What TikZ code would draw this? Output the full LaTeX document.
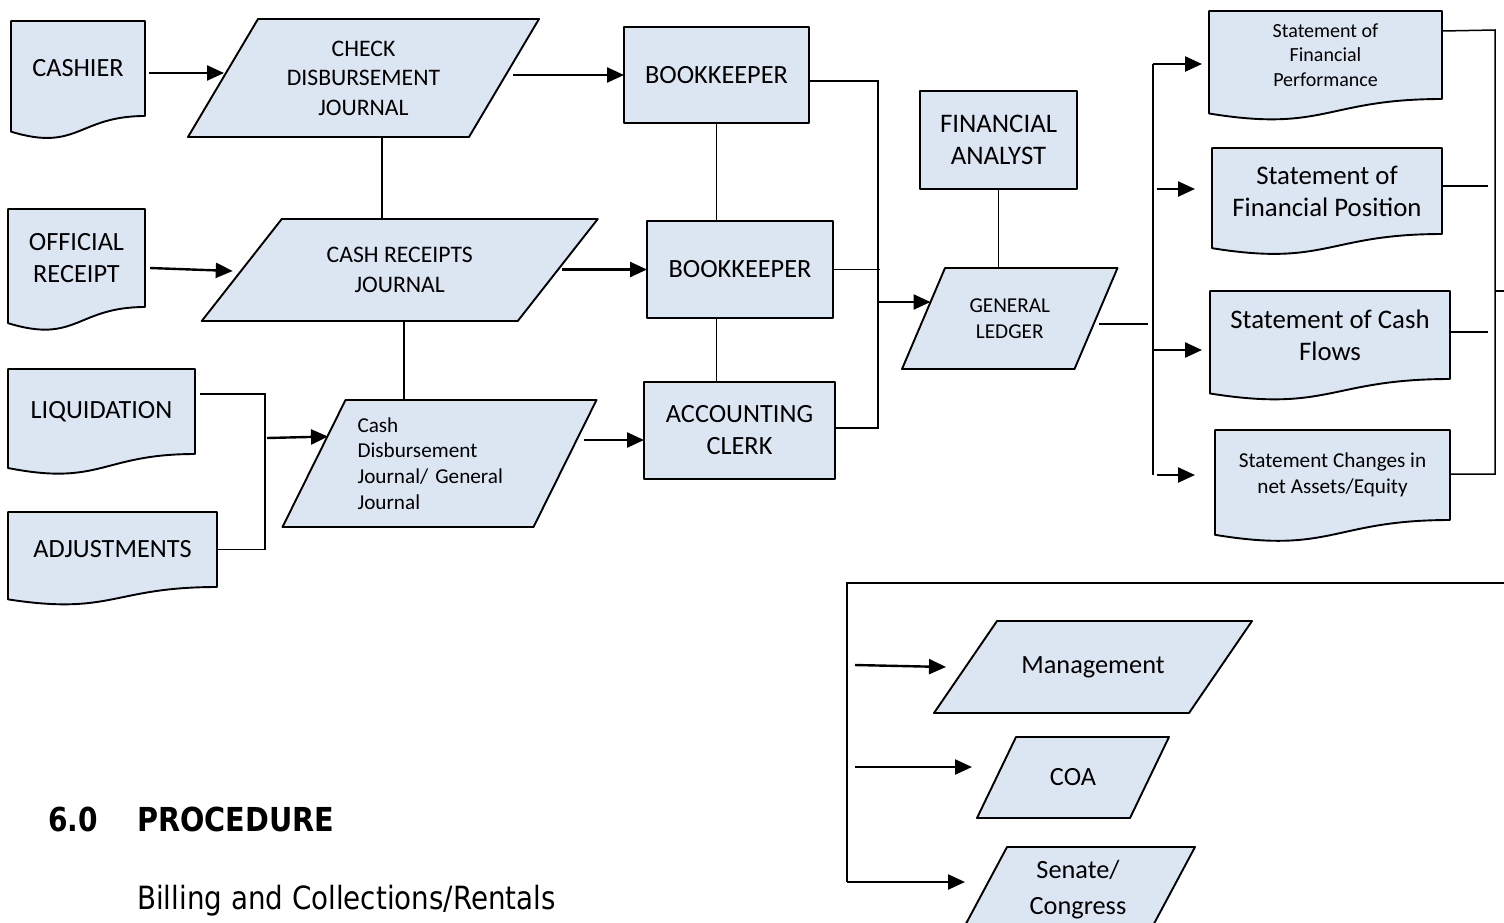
\documentclass[tikz,border=0pt]{standalone}
\usepackage{fontspec}
\usepackage{graphicx}
\setmainfont{Carlito}
\newfontfamily\tahfont{DejaVu Sans}
\usetikzlibrary{arrows.meta,calc,backgrounds}
\definecolor{boxblue}{HTML}{DCE6F2}

\newcommand\fmain{\fontsize{26.3}{32}\selectfont}
\newcommand\fbig{\fontsize{26.8}{32}\selectfont}
\newcommand\fmid{\fontsize{23.7}{29.5}\selectfont}
\newcommand\fsmall{\fontsize{21.2}{25.8}\selectfont}
\newcommand\ftiny{\fontsize{20}{24.5}\selectfont}
\newcommand\fsen{\fontsize{26.3}{36}\selectfont}

\newcommand\docshape[1]{\path[shp] (#1.north west) -- (#1.north east) -- (#1.south east)
  .. controls (#1.south) and ($(#1.south)!-0.381!(#1.north)$) .. ($(#1.south west)!-0.1646!(#1.north west)$) -- cycle;}
\newcommand\parashape[2]{\path[shp] ($(#1.north west)+({#2/2},0)$) -- ($(#1.north east)+({#2/2},0)$)
  -- ($(#1.south east)-({#2/2},0)$) -- ($(#1.south west)-({#2/2},0)$) -- cycle;}

\tikzset{
  shp/.style={draw=black, fill=boxblue, line width=1.9pt, line join=round},
  rbox/.style={shp, rectangle, outer sep=0pt, inner sep=2pt, align=center, font=\fmain},
  docnode/.style={rectangle, outer sep=0pt, inner sep=2pt, align=center, font=\fmain},
  paranode/.style={rectangle, outer sep=0pt, inner sep=2pt, align=center, font=\fmain},
  wire/.style={line width=1.5pt},
  arr/.style={line width=2.4pt, -{Triangle[length=17pt,width=15pt]}},
}

\begin{document}
\begin{tikzpicture}[x=1pt,y=-1pt]
\useasboundingbox (0,0) rectangle (1504,922);

% documents
\node[docnode, minimum width=134pt, minimum height=95pt] (cashier) at (78,68.5) {\raisebox{-3pt}{CASHIER}};
\node[docnode, minimum width=137pt, minimum height=98pt] (offrec) at (76.5,258) {OFFICIAL\\RECEIPT};
\node[docnode, minimum width=187pt, minimum height=85pt] (liq) at (101.5,411.5) {\raisebox{-3pt}{LIQUIDATION}};
\node[docnode, minimum width=209pt, minimum height=75pt] (adj) at (112.5,549.5) {\raisebox{-3pt}{ADJUSTMENTS}};
\node[docnode, font=\ftiny, minimum width=233pt, minimum height=88pt] (sfperf) at (1325.5,55) {Statement of\\Financial\\Performance};
\node[docnode, font=\fbig, minimum width=230pt, minimum height=86pt] (sfpos) at (1327,191) {Statement of\\Financial Position};
\node[docnode, font=\fbig, minimum width=240pt, minimum height=88pt] (scf) at (1330,335) {Statement of Cash\\Flows};
\node[docnode, font=\fsmall, minimum width=235pt, minimum height=90pt] (scna) at (1332.5,475) {Statement Changes in\\net Assets/Equity};

% parallelograms
\node[paranode, font=\fmid, minimum width=281pt, minimum height=118pt] (cdj) at (363.5,78) {CHECK\\DISBURSEMENT\\JOURNAL};
\node[paranode, font=\fmid, minimum width=316pt, minimum height=102pt] (crj) at (399.75,270) {CASH RECEIPTS\\JOURNAL};
\node[paranode, font=\fsmall, align=left, text width=164pt, inner xsep=43.5pt, minimum width=251pt, minimum height=127pt] (cdgj) at (439.5,463.5) {Cash\\Disbursement\\Journal/ General\\Journal};
\node[paranode, font=\fsmall, minimum width=172.5pt, minimum height=101pt] (gl) at (1009.75,318.5) {GENERAL\\LEDGER};
\node[paranode, minimum width=255pt, minimum height=92pt] (mgmt) at (1093,667) {Management};
\node[paranode, minimum width=153pt, minimum height=81pt] (coa) at (1073,777.5) {COA};
\node[paranode, font=\fsen, minimum width=188pt, minimum height=86pt] (senate) at (1078,890) {Senate/\\Congress};

% rectangles
\node[rbox, minimum width=185pt, minimum height=96pt] (bk1) at (716.5,75) {BOOKKEEPER};
\node[rbox, minimum width=186pt, minimum height=97pt] (bk2) at (740,269.5) {BOOKKEEPER};
\node[rbox, minimum width=191pt, minimum height=97pt] (clerk) at (739.5,430.5) {ACCOUNTING\\CLERK};
\node[rbox, font=\fbig, minimum width=157pt, minimum height=98pt] (fa) at (998.5,140) {FINANCIAL\\ANALYST};

% heading texts
\node[anchor=base west, inner sep=0pt, font=\tahfont\bfseries\fontsize{33}{40}\selectfont] (secnum) at (48,831) {\scalebox{0.85}[1]{6.0}};
\node[anchor=base west, inner sep=0pt, font=\tahfont\bfseries\fontsize{33}{40}\selectfont] (sectitle) at (137,831) {\scalebox{0.87}[1]{PROCEDURE}};
\node[anchor=base west, inner sep=0pt, font=\tahfont\fontsize{32}{40}\selectfont] (subtitle) at (137,909) {\scalebox{0.867}[1]{Billing and Collections/Rentals}};

\begin{pgfonlayer}{background}
  \docshape{cashier}\docshape{offrec}\docshape{liq}\docshape{adj}
  \docshape{sfperf}\docshape{sfpos}\docshape{scf}\docshape{scna}
  \parashape{cdj}{70}\parashape{crj}{80}\parashape{cdgj}{63}\parashape{gl}{43}
  \parashape{mgmt}{63}\parashape{coa}{39}\parashape{senate}{46}
\end{pgfonlayer}

% left part connectors
\draw[arr] ($(cashier.east)+(4,4.5)$) -- ($(cdj.west)+(1,-5)$);
\draw[arr] ($(cdj.east)+(9,-3)$) -- (bk1.west);
\draw[arr] ($(offrec.east)+(5,10)$) -- ($(crj.west)+(-9,1)$);
\draw[arr] ($(crj.east)+(4,-0.5)$) -- (bk2.west);
\draw[wire] ($(liq.east)+(5,-17.5)$) -| ($(adj.east)+(48,0)$) -- (adj.east);
\draw[arr] ($(adj.east)+(50,-111.5)$) -- ($(cdgj.west)+(14,-27)$);
\draw[arr] ($(cdgj.east)+(19,-23.5)$) -- ($(clerk.west)+(0,9.5)$);
\draw[wire] ($(cdj.south)+(18.5,0)$) -- ($(cdj.south |- crj.north)+(18.5,0)$);
\draw[wire] ($(crj.south)+(4,0)$) -- ($(crj.south |- cdgj.north)+(4,0)$);
\draw[wire] (bk1.south) -- (bk1.south |- bk2.north);
\draw[wire] (bk1.south |- bk2.south) -- (bk1.south |- clerk.north);

% bus to general ledger
\draw[wire] ($(bk1.east)+(0,6)$) -| ($(clerk.east)+(43,-2.5)$) -- ($(clerk.east)+(0,-2.5)$);
\draw[wire] (bk2.east) -- ++(47,0);
\draw[arr] ($(clerk.east)+(43,-128.5)$) -- ($(gl.west)+(7,-16.5)$);
\draw[wire] (fa.south) -- (fa.south |- gl.north);
\draw[wire] ($(gl.east)+(3,5.5)$) -- ++(49,0);

% statements
\draw[wire] ($(sfperf.west)+(-56,9)$) -- ($(scna.west)+(-62,0)$);
\draw[arr] ($(sfperf.west)+(-56,9)$) -- ($(sfperf.west)+(-7,9)$);
\draw[arr] ($(sfpos.west)+(-55,-2)$) -- ($(sfpos.west)+(-17,-2)$);
\draw[arr] ($(scf.west)+(-57,15)$) -- ($(scf.west)+(-8,15)$);
\draw[arr] ($(scna.west)+(-58,0)$) -- ($(scna.west)+(-20,0)$);
\draw[wire] ($(sfperf.east)+(0,-24)$) -- ($(sfperf.east)+(53,-25)$) -- ($(scna.east)+(45,-1)$) -- ($(scna.east)+(0,-1)$);
\draw[wire] ($(sfpos.east)+(0,-5)$) -- ++(46,0);
\draw[wire] ($(scf.east)+(0,-3)$) -- ++(38,0);
\draw[wire] ($(scf.east)+(45,-44)$) -- ++(12,0);

% lower panel
\coordinate (pTop) at (847,583);
\coordinate (pRight) at (1506,583);
\coordinate (pBot) at (847,882);
\draw[wire] (pRight) -- (pTop) -- (pBot);
\draw[arr] ($(pTop)+(8,82)$) -- ($(mgmt.west)+(-19.5,0)$);
\draw[arr] ($(pTop)+(8,184)$) -- ($(coa.west)+(-24.5,-10.5)$);
\draw[arr] (pBot) -- ($(senate.west)+(-19,-8)$);
\end{tikzpicture}
\end{document}
